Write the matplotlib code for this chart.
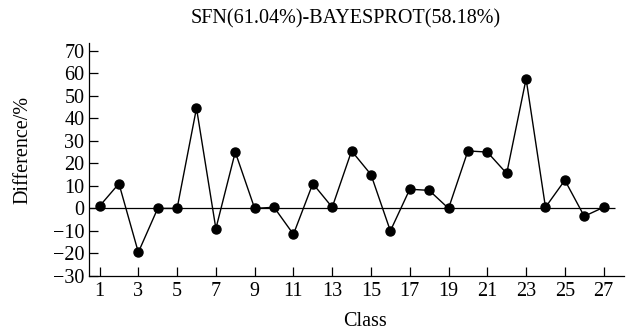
import matplotlib
matplotlib.use("Agg")
import matplotlib.pyplot as plt

plt.rcParams['font.family'] = ['Liberation Serif', 'DejaVu Serif']

# Data
classes = list(range(1, 28))
difference = [1, 11, -19.5, 0, 0, 44.5, -9, 25, 0, 0.5, -11.5, 11, 0.5, 25.5, 15,
              -10, 8.5, 8, 0, 25.5, 25, 15.5, 57.5, 0.5, 12.5, -3.5, 0.5]
xticks = list(range(1, 28, 2))
yticks = list(range(-30, 71, 10))

fig = plt.figure(figsize=(6.31, 3.35), dpi=100)
ax = fig.add_axes([88.5 / 631, 1 - 276 / 335, (624 - 88.5) / 631, (276 - 43) / 335])

ax.hlines(0, 0.43, 27.6, color='black', linewidth=0.9)
ax.plot(classes, difference, color='black', linewidth=1.0,
        marker='o', markersize=6.5, markerfacecolor='black')

ax.set_xlim(0.43, 28.05)
ax.set_ylim(-30, 73.4)
ax.set_xticks(xticks)
ax.set_yticks(yticks)
ax.set_yticklabels([str(v).replace('-', '\u2212') for v in yticks])
ax.tick_params(direction='in', length=6.5, width=0.9, labelsize=14.5, colors='black')
ax.tick_params(axis='x', pad=4)
ax.tick_params(axis='y', pad=3)
for s in ['top', 'right']:
    ax.spines[s].set_visible(False)
for s in ['left', 'bottom']:
    ax.spines[s].set_linewidth(0.9)

fig.text(23 / 631, 1 - 150 / 335, 'Difference/%', rotation=90, ha='center', va='center', fontsize=14.5)
fig.text(365 / 631, 1 - 321 / 335, 'Class', ha='center', va='center', fontsize=14.5)
fig.text(346 / 631, 1 - 19 / 335, 'SFN(61.04%)-BAYESPROT(58.18%)', ha='center', va='center', fontsize=14.5)

fig.savefig('out.png', dpi=100)
